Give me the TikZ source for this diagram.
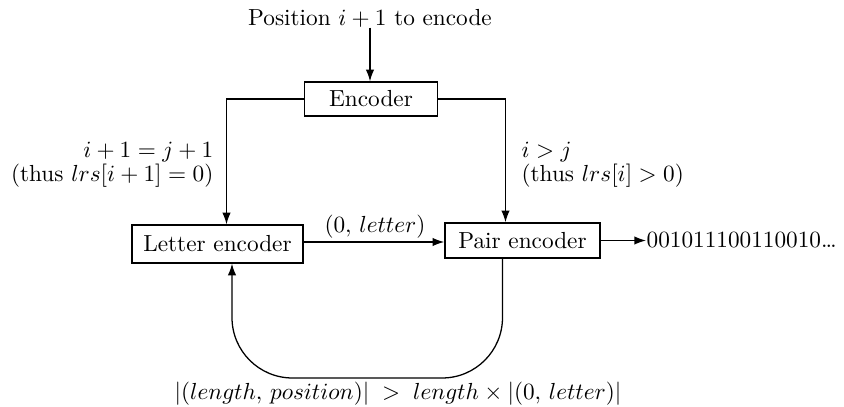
\documentclass[tikz,border=0pt]{standalone}
\usetikzlibrary{arrows.meta,calc}
\begin{document}
\begin{tikzpicture}[x=0.43pt,y=-0.43pt,
  line width=0.55pt,
  arr/.style={-{Latex[length=5pt,width=3.6pt]}},
  box/.style={draw,inner sep=0pt,line width=0.6pt},
  lbl/.style={inner sep=0pt,font=\fontsize{10}{8.6}\selectfont}]
\useasboundingbox (0,0) rectangle (844,407);
\node[lbl] (title) at (370,18) {Position $i+1$ to encode};
\node[box,minimum width=57.2pt,minimum height=14.6pt] (enc) at (371,99) {Encoder};
\node[box,minimum width=73.5pt,minimum height=16.3pt] (let) at (217.5,244) {Letter encoder};
\node[box,minimum width=66.7pt,minimum height=15.1pt] (pair) at (522.5,240.5) {Pair encoder};
\node[lbl,anchor=west] (out) at (646,240.5) {001011100110010\ldots};
\node[lbl,anchor=east,align=right] (ll) at (214,165) {$i+1=j+1$\\(thus $lrs[i+1]=0$)};
\node[lbl,anchor=west,align=left] (rl) at (521,165) {$i>j$\\(thus $lrs[i]>0$)};
\node[lbl] (zl) at (375,227) {$(0,\,letter)$};
\node[lbl] (bl) at (398,394) {$|(length,\,position)|\;>\;length\times|(0,\,letter)|$};
\coordinate (lin) at ($(let.north)+(9,0)$);
\coordinate (pin) at ($(pair.north)+(-17,0)$);
\coordinate (pout) at ($(pair.south)+(-20,0)$);
\coordinate (lback) at ($(let.south)+(14.5,0)$);
\draw[arr] (title.south) -- (title.south |- enc.north);
\draw[arr] (enc.west) -| (lin);
\draw[arr] (enc.east) -| (pin);
\draw[arr] (let.east |- 0,242) -- (pair.west |- 0,242);
\draw[arr] (pair.east) -- (out.west);
\draw[arr,rounded corners=26pt] (pout) -- (pout |- 0,378) -- (lback |- 0,378) -- (lback);
\end{tikzpicture}
\end{document}
